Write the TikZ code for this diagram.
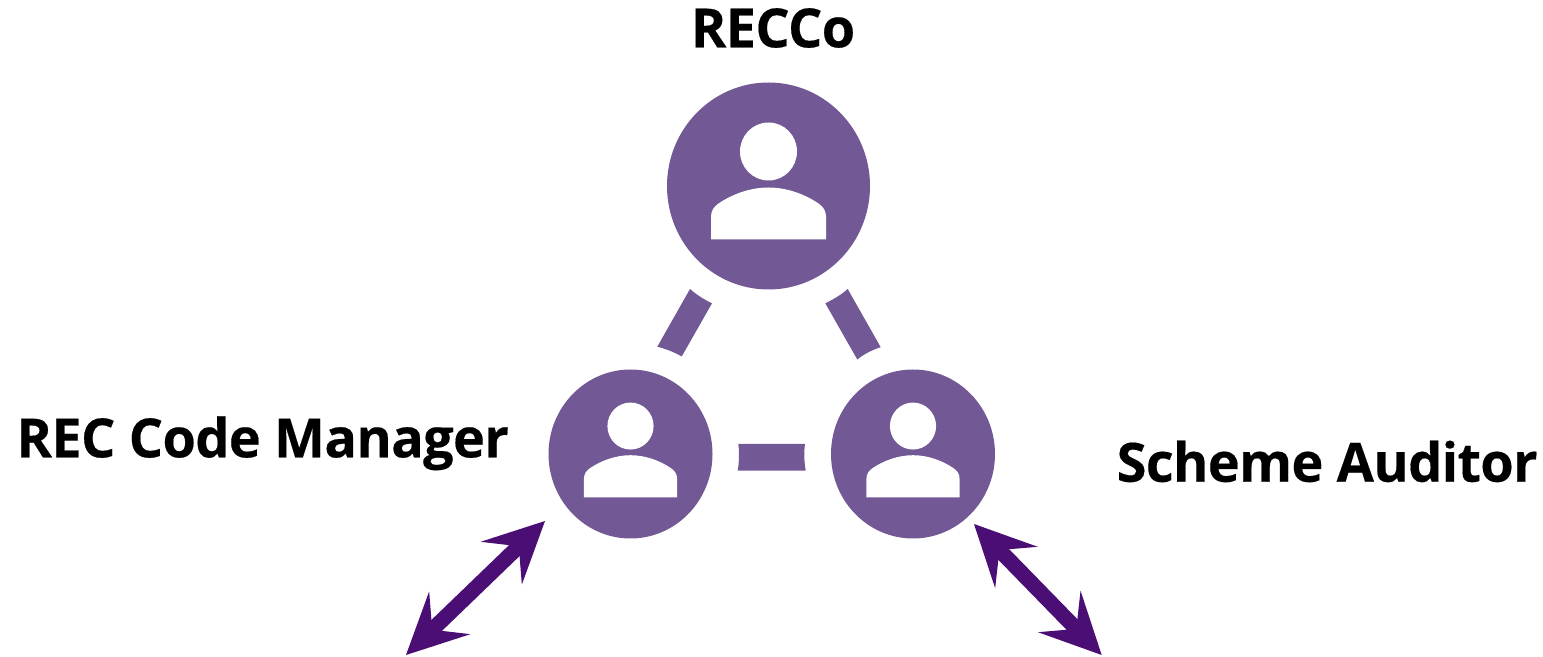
\documentclass[tikz,border=0pt]{standalone}
\usepackage{fontspec}
\setmainfont{Open Sans}[BoldFeatures={FakeBold=0.35,LetterSpace=-1.2}]
\usetikzlibrary{arrows.meta,shapes.geometric}
\definecolor{softpurple}{HTML}{725996}
\definecolor{deeppurple}{HTML}{4A0E74}
\tikzset{
  bigdisc/.style={ellipse,fill=softpurple,inner sep=0pt,minimum width=101.5pt,minimum height=103.5pt},
  smalldisc/.style={ellipse,fill=softpurple,inner sep=0pt,minimum width=82pt,minimum height=84.5pt},
  rolelabel/.style={inner sep=0pt,font=\bfseries\fontsize{27}{30}\selectfont,text=black},
  linkbar/.style={fill=softpurple,draw=none},
  dataflow/.style={draw=deeppurple,line width=7.6pt,
    {Stealth[length=30.4pt,width=29.7pt,inset=12.2pt,line width=0pt,color=deeppurple]}-{Stealth[length=30.4pt,width=29.7pt,inset=12.2pt,line width=0pt,color=deeppurple]}}
}
\newcommand{\personicon}[2]{%
  \begin{scope}[shift={(#1)},scale=#2]
    \fill[white] (0,-34.5) ellipse [x radius=28.5,y radius=29];
    \fill[white] (-57.5,53.5) -- (-57.5,31) .. controls (-57.5,25) and (-55,21) .. (-50,17.5)
      .. controls (-36,8) and (-18,1.5) .. (0,1.5)
      .. controls (18,1.5) and (36,8) .. (50,17.5)
      .. controls (55,21) and (57.5,25) .. (57.5,31) -- (57.5,53.5) -- cycle;
  \end{scope}}
\begin{document}
\begin{tikzpicture}[x=0.5pt,y=-0.5pt]
  \useasboundingbox (0,0) rectangle (1543,657);
  \node[bigdisc] (recco) at (768.5,186) {};
  \node[smalldisc] (manager) at (630.5,454) {};
  \node[smalldisc] (auditor) at (913,454) {};
  \personicon{recco.center}{1}
  \personicon{manager.center}{0.81}
  \personicon{auditor.center}{0.81}
  \node[rolelabel,anchor=base] (reccolabel) at (773,47.3) {RECCo};
  \node[rolelabel,anchor=base west] (managerlabel) at (16,457.3) {REC Code Manager};
  \node[rolelabel,anchor=base east] (auditorlabel) at (1538,481.7) {Scheme Auditor};
  % links between the three roles
  \fill[linkbar] (690,289) .. controls (697,295) and (704,299.5) .. (712,303.3)
    -- (681.7,356.5) .. controls (674,352) and (666,349) .. (657.3,346.7) -- cycle;
  \fill[linkbar] (847.7,289) .. controls (841,295) and (833,299.5) .. (825.3,303.3)
    -- (857.3,359.5) .. controls (864,354) and (872,350) .. (880.7,347.2) -- cycle;
  \fill[linkbar] (738.3,444) -- (805,444) .. controls (803.8,452) and (804.2,462) .. (805.7,470.7)
    -- (737.7,470.7) .. controls (739.2,462) and (739.4,452) .. (738.3,444) -- cycle;
  % data flows
  \coordinate (mgrnear) at (545,521);
  \coordinate (mgrfar) at (406,655);
  \coordinate (audnear) at (974,524);
  \coordinate (audfar) at (1101.7,655);
  \draw[dataflow] (mgrnear) -- (mgrfar);
  \draw[dataflow] (audnear) -- (audfar);
\end{tikzpicture}
\end{document}
